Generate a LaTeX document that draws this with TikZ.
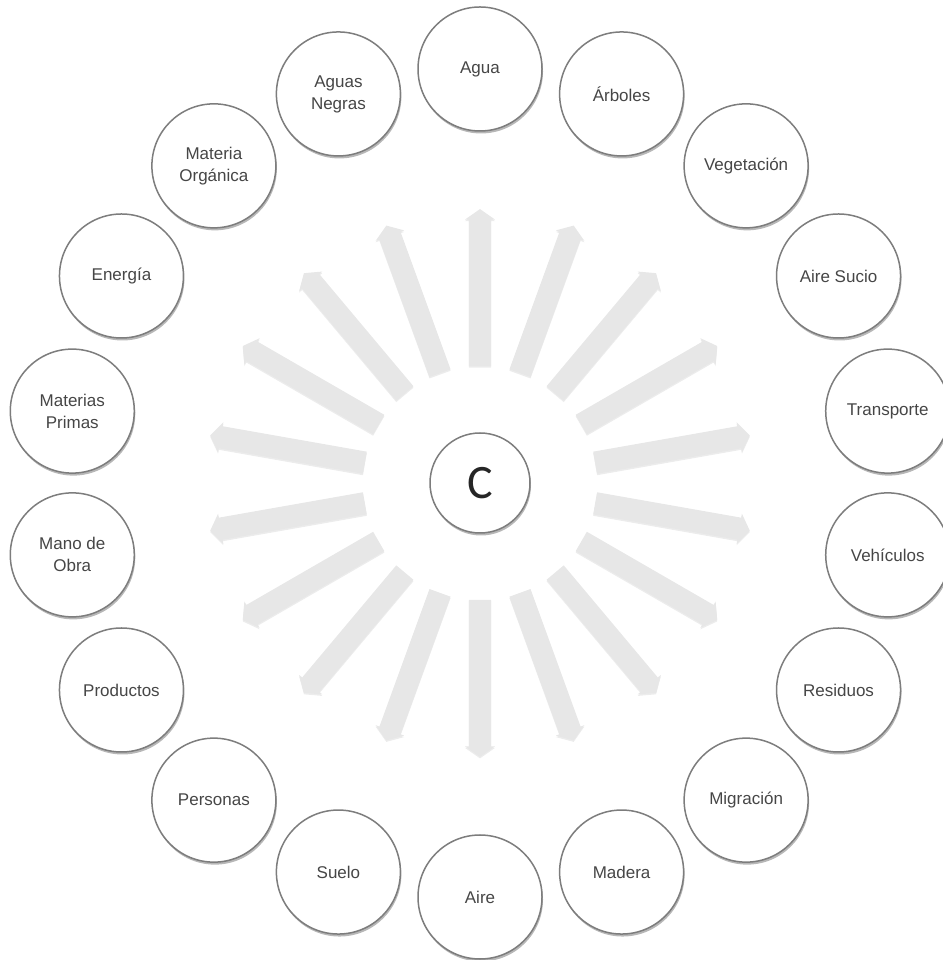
\documentclass[tikz,border=0pt]{standalone}
\usepackage{fontspec}
\setmainfont{Liberation Sans}
\newfontfamily\letrac{Carlito}
\usepackage{tikz}
\usetikzlibrary{calc,shapes.arrows,shadows}
\definecolor{BordeGris}{RGB}{125,125,125}
\definecolor{TextoGris}{RGB}{70,70,70}
\definecolor{FlechaGris}{RGB}{231,231,231}
\tikzset{
  burbuja/.style={circle,draw=BordeGris,line width=1.5pt,fill=white,minimum size=124pt,inner sep=0pt,
    align=center,text=TextoGris,font=\fontsize{17}{22}\selectfont,
    drop shadow={shadow xshift=1pt,shadow yshift=-2.5pt,opacity=0.4,fill=black!70}},
  nucleo/.style={burbuja,minimum size=100pt,text=black!85,font=\letrac\fontsize{48}{50}\selectfont},
  flecha/.style={single arrow,fill=FlechaGris,draw=none,inner sep=0pt,text height=22pt,text depth=0pt,
    text width=0pt,minimum height=157pt,single arrow head extend=4pt,single arrow tip angle=110,
    sloped,allow upside down,drop shadow={shadow xshift=0pt,shadow yshift=-1.5pt,opacity=0.15}}
}

\begin{document}
\begin{tikzpicture}[x=1pt,y=1pt]
  \useasboundingbox (0,0) rectangle (942,960);
  \coordinate (o) at (480,477);
  \node[nucleo] (centro) at (o) {C};
  \foreach \ang/\nom/\txt in {90/agua/Agua, 70/arboles/Árboles, 50/vegetacion/Vegetación,
      30/airesucio/Aire Sucio, 10/transporte/Transporte, -10/vehiculos/Vehículos,
      -30/residuos/Residuos, -50/migracion/Migración, -70/madera/Madera, -90/aire/Aire,
      -110/suelo/Suelo, -130/personas/Personas, -150/productos/Productos,
      -170/manodeobra/{Mano de\\Obra}, 170/materias/{Materias\\Primas}, 150/energia/Energía,
      130/organica/{Materia\\Orgánica}, 110/negras/{Aguas\\Negras}}{
    \node[burbuja] (\nom) at ($(o)+(\ang:414)$) {\txt};
    \path ($(centro)!113pt!(\nom)$) -- node[flecha] {} ($(centro)!270pt!(\nom)$);
  }
\end{tikzpicture}
\end{document}
